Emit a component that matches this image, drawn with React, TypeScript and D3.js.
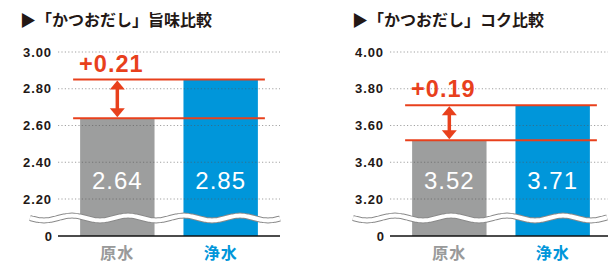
import React from "react";
import * as d3 from "d3";

const categories = ["原水", "浄水"];
const umamiValues = [2.64, 2.85];
const kokuValues = [3.52, 3.71];
const umamiTicks = [2.2, 2.4, 2.6, 2.8, 3.0];
const kokuTicks = [3.2, 3.4, 3.6, 3.8, 4.0];
const titles = ["▶「かつおだし」旨味比較", "▶「かつおだし」コク比較"];

const RED = "#e8401c";
const GRAY = "#9d9e9e";
const BLUE = "#0096da";
const TEXT = "#231815";
const NUM_FONT = "'Liberation Sans', Arial, sans-serif";
const JP_FONT = "'Noto Sans CJK JP', sans-serif";

type PanelProps = {
  ox: number;
  title: string;
  values: number[];
  ticks: number[];
  gridEnd: number;
  waveStart: number;
  waveEnd: number;
};

function Panel({ ox, title, values, ticks, gridEnd, waveStart, waveEnd }: PanelProps) {
  const y = d3
    .scaleLinear()
    .domain([ticks[0], ticks[ticks.length - 1]])
    .range([199, 52]);
  const y0 = 236;
  const x = d3
    .scaleBand<string>()
    .domain(categories)
    .range([ox + 58, ox + 280])
    .paddingInner(0.28)
    .paddingOuter(0.214);
  const bw = x.bandwidth();
  const gridStart = ox + 58;
  const diff = values[1] - values[0];
  const yTop = y(values[1]);
  const yBot = y(values[0]);
  const ax = (x(categories[0]) as number) + bw / 2;
  const waveY = 218;
  const wave = d3
    .line<number>()
    .x((d) => d)
    .y((d) => waveY + 2.4 * Math.sin(((d - waveStart) / 56) * 2 * Math.PI))
    .curve(d3.curveBasis)(d3.range(waveStart, waveEnd + 1, 2));
  const fmt = d3.format(".2f");
  return (
    <g>
      <text x={ox + 20} y={26} fontFamily={JP_FONT} fontWeight={700} fontSize={16} fill={TEXT}>
        {title}
      </text>
      {categories.map((c, i) => (
        <rect
          key={c}
          x={x(c)}
          y={y(values[i])}
          width={bw}
          height={y0 - y(values[i])}
          fill={i === 0 ? GRAY : BLUE}
        />
      ))}
      {ticks.map((t) => (
        <g key={t}>
          <line
            x1={gridStart}
            x2={gridEnd}
            y1={y(t)}
            y2={y(t)}
            stroke="#555"
            strokeOpacity={0.55}
            strokeWidth={1}
            strokeDasharray="1.2 2.2"
          />
          <text
            x={ox + 52}
            y={y(t) + 4.5}
            textAnchor="end"
            fontFamily={NUM_FONT}
            fontSize={13}
            fontWeight={700}
            letterSpacing={0.9}
            fill={TEXT}
          >
            {fmt(t)}
          </text>
        </g>
      ))}
      <text x={ox + 52} y={y0 + 4.5} textAnchor="end" fontFamily={NUM_FONT} fontSize={13} fontWeight={700} fill={TEXT}>
        0
      </text>
      <path d={wave || ""} fill="none" stroke="#8a8a8a" strokeWidth={6} />
      <path d={wave || ""} fill="none" stroke="#ffffff" strokeWidth={4} />
      <line x1={gridStart} x2={gridEnd} y1={y0} y2={y0} stroke="#111" strokeWidth={1.5} />
      {categories.map((c, i) => (
        <text
          key={c}
          x={(x(c) as number) + bw / 2}
          y={y(ticks[0] + (ticks[1] - ticks[0]) / 2) + 8.5}
          textAnchor="middle"
          fontFamily={NUM_FONT}
          fontSize={24}
          letterSpacing={1}
          fill="#ffffff"
        >
          {fmt(values[i])}
        </text>
      ))}
      {categories.map((c, i) => (
        <text
          key={c}
          x={(x(c) as number) + bw / 2}
          y={259}
          textAnchor="middle"
          fontFamily={JP_FONT}
          fontWeight={700}
          fontSize={16}
          letterSpacing={1}
          fill={i === 0 ? "#999a9a" : BLUE}
        >
          {c}
        </text>
      ))}
      {[yTop, yBot].map((yy, i) => (
        <line
          key={i}
          x1={(x(categories[0]) as number) - 7}
          x2={(x(categories[1]) as number) + bw + 7}
          y1={yy}
          y2={yy}
          stroke={RED}
          strokeWidth={2}
        />
      ))}
      <line x1={ax} x2={ax} y1={yTop + 8} y2={yBot - 8} stroke={RED} strokeWidth={3.5} />
      <path d={`M${ax},${yTop + 1} L${ax - 7.5},${yTop + 10} L${ax + 7.5},${yTop + 10} Z`} fill={RED} />
      <path d={`M${ax},${yBot - 1} L${ax - 7.5},${yBot - 10} L${ax + 7.5},${yBot - 10} Z`} fill={RED} />
      <text
        x={(x(categories[0]) as number) - 1}
        y={yTop - 8}
        fontFamily={NUM_FONT}
        fontWeight={700}
        fontSize={23.5}
        letterSpacing={1}
        fill={RED}
      >
        {"+" + fmt(diff)}
      </text>
    </g>
  );
}

export default function App() {
  return (
    <svg
      width={608}
      height={263}
      style={{ position: "absolute", left: 0, top: 0, background: "#ffffff" }}
    >
      <Panel ox={0} title={titles[0]} values={umamiValues} ticks={umamiTicks} gridEnd={280} waveStart={30} waveEnd={280} />
      <Panel ox={332} title={titles[1]} values={kokuValues} ticks={kokuTicks} gridEnd={608} waveStart={353} waveEnd={608} />
    </svg>
  );
}
